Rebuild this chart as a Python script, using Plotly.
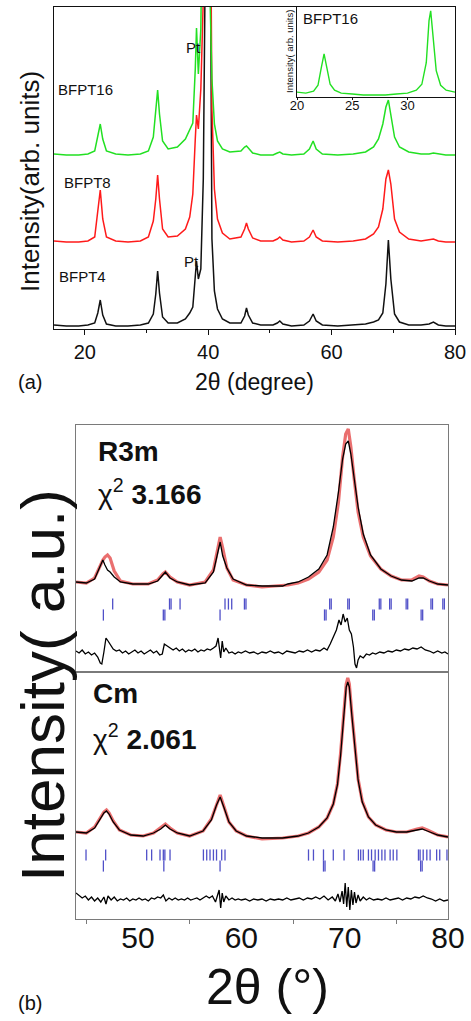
import plotly.graph_objects as go

W, H = 471, 1021
def X(px): return px / W
def Y(py): return 1 - py / H

FONT = "Liberation Sans"

# ---------------- panel (a) data: XRD patterns ----------------
two_theta_a = [15, 17, 19, 20.5, 21.6, 22.1, 22.5, 22.9, 23.5, 25,
               27, 29, 30.3, 31.1, 31.5, 31.8, 32.1, 32.6, 33.5, 35,
               36.3, 37.0, 37.5, 37.9, 38.1, 38.4, 38.8, 39.2, 39.6, 40.0,
               40.3, 40.6, 41.0, 41.5, 42.3, 43.5, 45.3, 45.9, 46.2, 46.5,
               47.2, 48.5, 50.5, 51.2, 51.6, 52.1, 53.5, 55.5, 56.4, 57.0,
               57.5, 58.5, 61, 63.5, 65.5, 66.8, 67.6, 68.3, 68.8, 69.2,
               69.6, 70.2, 71, 72.5, 74.5, 75.8, 76.5, 77.3, 78.5, 80]
bfpt4 = [4, 3, 3, 4, 6, 16, 29, 14, 5, 3,
         3, 4, 6, 15, 35, 58, 36, 12, 6, 6,
         10, 16, 22, 55, 68, 50, 60, 150, 400, 700,
         450, 90, 38, 20, 10, 6, 6, 13, 21, 14,
         6, 4, 4, 6, 8, 5, 3, 4, 8, 15,
         8, 4, 3, 4, 5, 7, 9, 16, 45, 89,
         50, 15, 7, 4, 4, 5, 7, 4, 3, 3]
bfpt8 = [88, 87, 87, 88, 92, 115, 139, 110, 92, 88,
         87, 88, 92, 108, 130, 154, 130, 100, 92, 93,
         100, 112, 135, 190, 214, 200, 240, 330, 600, 700,
         500, 220, 140, 110, 96, 90, 92, 100, 106, 100,
         91, 88, 88, 90, 92, 89, 87, 88, 92, 99,
         92, 88, 87, 88, 90, 95, 102, 120, 150, 159,
         145, 110, 97, 90, 88, 89, 90, 88, 87, 87]
bfpt16 = [175, 174, 174, 175, 178, 192, 205, 190, 178, 175,
          174, 175, 178, 192, 215, 239, 215, 188, 180, 182,
          190, 200, 206, 260, 301, 255, 300, 500, 700, 500,
          330, 250, 205, 188, 180, 177, 178, 182, 183, 181,
          176, 174, 174, 176, 177, 175, 174, 175, 180, 188,
          180, 175, 174, 175, 177, 182, 190, 205, 222, 229,
          215, 192, 182, 177, 175, 175, 176, 175, 174, 174]

inset_two_theta = [20, 20.8, 21.5, 21.9, 22.2, 22.45, 22.7, 23.0, 23.4, 24,
                   25, 26, 27, 28, 29, 30, 30.8, 31.3, 31.7, 31.95,
                   32.1, 32.3, 32.6, 33.0, 33.5, 34.3]
inset_bfpt16 = [5, 4, 6, 12, 30, 44, 30, 13, 7, 4,
                3, 2, 2, 2, 3, 4, 7, 13, 35, 78,
                88, 62, 27, 12, 7, 5]

labels_a = ["BFPT16", "BFPT8", "BFPT4"]

# ---------------- panel (b) data: Rietveld fits ----------------
r3m_x = [44, 45, 45.8, 46.3, 46.6, 46.8, 47.05, 47.3, 47.7, 48.3,
         49.5, 51, 51.9, 52.4, 52.65, 53.1, 53.8, 55, 56.5, 57.3,
         57.7, 57.95, 58.2, 58.6, 59.2, 60.5, 62, 64, 64.5, 65.5,
         66.5, 67.5, 68.3, 68.9, 69.4, 69.8, 70.1, 70.35, 70.6, 70.9,
         71.3, 71.8, 72.5, 73.5, 74.5, 75.5, 76.5, 77.2, 77.6, 78.2,
         79, 80]
r3m_obs = [90, 89, 94, 106, 112, 115, 117, 114, 101, 91,
           88, 88, 92, 98, 100, 95, 90, 87, 90, 102,
           122, 135, 124, 104, 92, 87, 85, 86, 87, 89,
           93, 100, 112, 135, 170, 215, 238, 243, 225, 195,
           160, 135, 116, 103, 96, 92, 92, 96, 95, 91,
           88, 87]
r3m_calc = [90, 89, 93, 104, 112, 107, 102, 100, 95, 90,
            88, 88, 91, 97, 100, 94, 90, 87, 89, 100,
            117, 130, 116, 104, 93, 87, 86, 86, 88, 90,
            95, 103, 117, 145, 180, 213, 228, 231, 218, 196,
            165, 138, 117, 103, 96, 92, 91, 94, 94, 91,
            88, 87]
r3m_diff_x = [44, 44.3, 44.6, 44.9, 45.2, 45.5, 45.8, 46.1, 46.35, 46.5,
              46.7, 46.9, 47.1, 47.35, 47.6, 47.9, 48.2, 48.5, 48.8, 49.1,
              49.4, 49.7, 50.0, 50.3, 50.6, 50.9, 51.2, 51.5, 51.8, 52.1,
              52.35, 52.55, 52.8, 53.1, 53.4, 53.7, 54.0, 54.3, 54.6, 54.9,
              55.2, 55.5, 55.8, 56.1, 56.4, 56.7, 57.0, 57.3, 57.55, 57.75,
              57.9, 58.0, 58.15, 58.3, 58.5, 58.8, 59.1, 59.4, 59.7, 60.0,
              60.4, 60.8, 61.2, 61.6, 62.0, 62.4, 62.8, 63.2, 63.6, 64.0,
              64.4, 64.8, 65.2, 65.6, 66.0, 66.4, 66.8, 67.2, 67.6, 68.0,
              68.3, 68.6, 68.9, 69.2, 69.45, 69.65, 69.85, 70.05, 70.25, 70.45,
              70.65, 70.85, 71.0, 71.15, 71.3, 71.5, 71.8, 72.1, 72.4, 72.7,
              73.0, 73.4, 73.8, 74.2, 74.6, 75.0, 75.4, 75.8, 76.2, 76.6,
              77.0, 77.4, 77.8, 78.2, 78.6, 79.0, 79.4, 79.7, 80]
r3m_diff = [21, 19, 22, 18, 20, 17, 19, 15, 9, 8,
            20, 34, 31, 27, 23, 21, 22, 19, 21, 18,
            20, 22, 19, 21, 18, 20, 22, 19, 21, 17,
            18, 28, 26, 24, 22, 24, 21, 23, 20, 22,
            21, 23, 20, 22, 21, 23, 22, 24, 26, 34,
            20, 14, 31, 20, 24, 19, 20, 18, 20, 19,
            21, 19, 20, 18, 20, 19, 21, 19, 20, 18,
            21, 20, 19, 21, 20, 22, 20, 22, 21, 24,
            22, 28, 35, 42, 52, 47, 58, 50, 54, 42,
            38, 25, 8, 4, 12, 16, 14, 18, 17, 19,
            18, 20, 19, 21, 20, 22, 21, 23, 22, 24,
            23, 25, 22, 21, 19, 21, 19, 20, 18]
r3m_hkl_1 = [47.55, 53.05, 53.2, 54.07, 58.42, 58.75, 59.07, 60.3, 60.45,
             68.55, 68.7, 70.3, 70.45, 73.35, 73.5, 74.35, 74.5, 75.95, 76.1,
             78.35, 78.5, 79.5, 79.65]
r3m_hkl_2 = [46.65, 52.45, 52.6, 57.94, 68.05, 68.2, 72.72, 72.87, 77.4, 77.55]

cm_x = [44, 45, 45.8, 46.3, 46.7, 46.95, 47.2, 47.6, 48.2, 49.3,
        50.5, 51.5, 52.2, 52.65, 53.1, 53.8, 55, 56.3, 57.1, 57.6,
        57.95, 58.3, 58.8, 59.5, 60.5, 62, 64, 65.5, 66.5, 67.5,
        68.3, 68.9, 69.3, 69.6, 69.9, 70.15, 70.3, 70.45, 70.7, 71.0,
        71.3, 71.7, 72.3, 73, 74, 75, 76, 77, 77.5, 78,
        79, 80]
cm_obs = [87, 86, 92, 100, 107, 109, 106, 98, 89, 84,
          83, 86, 91, 95, 91, 86, 83, 88, 100, 115,
          124, 113, 97, 88, 83, 80, 81, 83, 86, 92,
          101, 115, 135, 165, 205, 235, 241, 235, 205, 170,
          140, 118, 102, 94, 89, 87, 87, 90, 91, 89,
          84, 82]
cm_calc = [87, 86, 91, 99, 106, 108, 105, 97, 89, 84,
           83, 86, 90, 94, 90, 86, 83, 88, 99, 114,
           122, 112, 97, 88, 83, 81, 81, 83, 86, 92,
           101, 115, 134, 163, 203, 232, 237, 232, 203, 168,
           139, 117, 102, 94, 89, 87, 87, 89, 90, 88,
           84, 82]
cm_diff_x = [44, 44.3, 44.6, 44.9, 45.2, 45.5, 45.8, 46.1, 46.4, 46.7,
             46.9, 47.1, 47.4, 47.7, 48.0, 48.3, 48.6, 48.9, 49.2, 49.5,
             49.8, 50.1, 50.4, 50.7, 51.0, 51.3, 51.6, 51.9, 52.2, 52.45,
             52.7, 53.0, 53.3, 53.6, 53.9, 54.2, 54.5, 54.8, 55.1, 55.4,
             55.7, 56.0, 56.3, 56.6, 56.9, 57.2, 57.5, 57.7, 57.85, 58.0,
             58.15, 58.3, 58.5, 58.8, 59.1, 59.4, 59.7, 60.0, 60.4, 60.8,
             61.2, 61.6, 62.0, 62.4, 62.8, 63.2, 63.6, 64.0, 64.4, 64.8,
             65.2, 65.6, 66.0, 66.4, 66.8, 67.2, 67.6, 68.0, 68.4, 68.8,
             69.1, 69.35, 69.55, 69.75, 69.9, 70.05, 70.2, 70.35, 70.5, 70.65,
             70.8, 70.95, 71.1, 71.3, 71.5, 71.8, 72.1, 72.4, 72.8, 73.2,
             73.6, 74.0, 74.4, 74.8, 75.2, 75.6, 76.0, 76.4, 76.8, 77.2,
             77.6, 78.0, 78.4, 78.8, 79.2, 79.6, 80]
cm_diff = [26, 23, 21, 23, 19, 22, 18, 21, 17, 22,
           15, 23, 19, 22, 18, 20, 19, 21, 18, 20,
           19, 21, 19, 20, 18, 21, 20, 22, 21, 24,
           18, 21, 19, 21, 19, 20, 19, 21, 19, 20,
           21, 19, 21, 23, 21, 23, 17, 24, 29, 11,
           26, 17, 23, 19, 21, 19, 20, 19, 20, 18,
           20, 19, 20, 18, 20, 19, 20, 19, 21, 19,
           20, 21, 19, 21, 20, 22, 20, 23, 19, 22,
           18, 25, 17, 28, 15, 36, 12, 32, 9, 29,
           14, 27, 16, 24, 18, 22, 19, 21, 19, 20,
           19, 21, 19, 20, 21, 19, 21, 20, 22, 21,
           23, 21, 20, 18, 20, 18, 19]
cm_hkl_1 = [44.97, 46.87, 50.84, 51.32, 52.13, 52.45, 52.6, 53.1, 56.33, 56.65,
            56.97, 57.3, 57.6, 58.1, 58.42, 66.5, 66.98, 67.95, 68.9, 69.94,
            71.33, 71.55, 71.8, 72.3, 72.6, 72.95, 73.27, 73.6, 73.9, 74.4,
            74.7, 75.05, 77.14, 77.3, 77.6, 77.95, 78.27, 78.9, 79.2, 79.9]
cm_hkl_2 = [46.65, 52.5, 57.94, 67.95, 68.1, 72.75, 72.9, 77.35, 77.5]

# tick-row levels (vertical position of reflection markers, in panel units)
r3m_rows = [68, 57]
cm_rows = [64, 53]

fig = go.Figure()

# panel (a)
for ys, col in [(bfpt4, "#111111"), (bfpt8, "#ff1a1a"), (bfpt16, "#22e022")]:
    fig.add_trace(go.Scatter(x=two_theta_a, y=ys, mode="lines",
                             line=dict(color=col, width=1.5), xaxis="x", yaxis="y"))
fig.add_trace(go.Scatter(x=inset_two_theta, y=inset_bfpt16, mode="lines",
                         line=dict(color="#22e022", width=1.4), xaxis="x2", yaxis="y2"))

BLUE = "#5050c8"
def add_fit(xa, ya, xs, obs, calc, dx, diff, hkl1, hkl2, rows):
    fig.add_trace(go.Scatter(x=xs, y=obs, mode="lines",
                             line=dict(color="rgba(225,50,50,0.7)", width=3.2),
                             xaxis=xa, yaxis=ya))
    fig.add_trace(go.Scatter(x=xs, y=calc, mode="lines",
                             line=dict(color="black", width=1.3), xaxis=xa, yaxis=ya))
    fig.add_trace(go.Scatter(x=dx, y=diff, mode="lines",
                             line=dict(color="black", width=1.3), xaxis=xa, yaxis=ya))
    for hk, lev in [(hkl1, rows[0]), (hkl2, rows[1])]:
        fig.add_trace(go.Scatter(x=hk, y=[lev] * len(hk), mode="markers",
                                 marker=dict(symbol="line-ns", size=8,
                                             line=dict(color=BLUE, width=1.3)),
                                 xaxis=xa, yaxis=ya))

add_fit("x3", "y3", r3m_x, r3m_obs, r3m_calc, r3m_diff_x, r3m_diff,
        r3m_hkl_1, r3m_hkl_2, r3m_rows)
add_fit("x4", "y4", cm_x, cm_obs, cm_calc, cm_diff_x, cm_diff,
        cm_hkl_1, cm_hkl_2, cm_rows)

GRAY = "#7a7a7a"
common = dict(showgrid=False, zeroline=False, automargin=False)
fig.update_layout(
    template="none",
    width=W, height=H, margin=dict(l=0, r=0, t=0, b=0, pad=0, autoexpand=False),
    paper_bgcolor="white", plot_bgcolor="rgba(0,0,0,0)", showlegend=False,
    font=dict(family=FONT, color="#111"),
    xaxis=dict(domain=[X(54), X(455)], range=[15, 80], anchor="y",
               tickvals=[20, 40, 60, 80], ticks="outside", ticklen=5, tickcolor="#111",
               minor=dict(ticks="outside", ticklen=3, tickvals=[30, 50, 70], tickcolor="#111"),
               showline=True, linecolor="#111", mirror=True,
               tickfont=dict(size=20, family=FONT), **common),
    yaxis=dict(domain=[Y(329), Y(7)], range=[0, 322], anchor="x",
               showticklabels=False, ticks="", showline=True, linecolor="#111",
               mirror=True, **common),
    xaxis2=dict(domain=[X(297), X(455)], range=[20, 34.3], anchor="y2",
                tickvals=[20, 25, 30], ticks="outside", ticklen=2, tickcolor="#111",
                showline=True, linecolor="#111", mirror=True,
                tickfont=dict(size=13, family=FONT), ticklabelstandoff=-6, **common),
    yaxis2=dict(domain=[Y(97), Y(7)], range=[0, 92], anchor="x2",
                showticklabels=False, ticks="", showline=True, linecolor="#111",
                mirror=True, **common),
    xaxis3=dict(domain=[X(76), X(448)], range=[44, 80], anchor="y3",
                showticklabels=False, ticks="", showline=True, linecolor=GRAY,
                mirror=True, **common),
    yaxis3=dict(domain=[Y(672), Y(425)], range=[0, 247], anchor="x3",
                showticklabels=False, ticks="", showline=True, linecolor=GRAY,
                mirror=True, **common),
    xaxis4=dict(domain=[X(76), X(448)], range=[44, 80], anchor="y4",
                tickvals=[50, 60, 70, 80], ticks="",
                minor=dict(ticks="outside", ticklen=4, tickvals=[45, 55, 65, 75],
                           tickcolor=GRAY),
                showline=True, linecolor=GRAY, mirror=True,
                tickfont=dict(size=30, family=FONT), ticklabelstandoff=-8, **common),
    yaxis4=dict(domain=[Y(919), Y(672)], range=[0, 247], anchor="x4",
                showticklabels=False, ticks="", showline=True, linecolor=GRAY,
                mirror=True, **common),
)

def ann(text, x, y, size, xanchor="left", angle=0):
    fig.add_annotation(text=text, x=X(x), y=Y(y),
                       xref="paper", yref="paper", showarrow=False,
                       xanchor=xanchor, yanchor="middle", textangle=angle,
                       font=dict(family=FONT, size=size, color="#111"))

# panel (a) texts
ann(labels_a[0], 56, 89, 15)
ann(labels_a[1], 62, 183, 15)
ann(labels_a[2], 57, 276, 15)
ann("Pt", 184, 47, 15)
ann("Pt", 182, 261, 15)
ann("BFPT16", 301, 19, 15)
ann("Intensity( arb. units)", 289, 52, 9.5, xanchor="center", angle=-90)
ann("Intensity(arb. units)", 30, 182, 26, xanchor="center", angle=-90)
ann("2θ (degree)", 254, 382, 23, xanchor="center")
ann("(a)", 16, 382, 20)

# panel (b) texts
ann("<b>R3m</b>", 96, 452, 28)
ann("χ<sup>2</sup> <b>3.166</b>", 96, 492, 28)
ann("<b>Cm</b>", 91, 693, 28)
ann("χ<sup>2</sup> <b>2.061</b>", 91, 737, 28)
ann("2θ (°)", 267, 987, 50, xanchor="center")
ann("Intensity( a.u.)", 42, 686, 62, xanchor="center", angle=-90)
ann("(b)", 16, 1003, 20)

fig.write_html(
    "out.html",
    config={"responsive": False, "displayModeBar": False},
    post_script="document.body.style.margin='0';document.body.style.padding='0';"
                "document.body.style.overflow='hidden';",
)
